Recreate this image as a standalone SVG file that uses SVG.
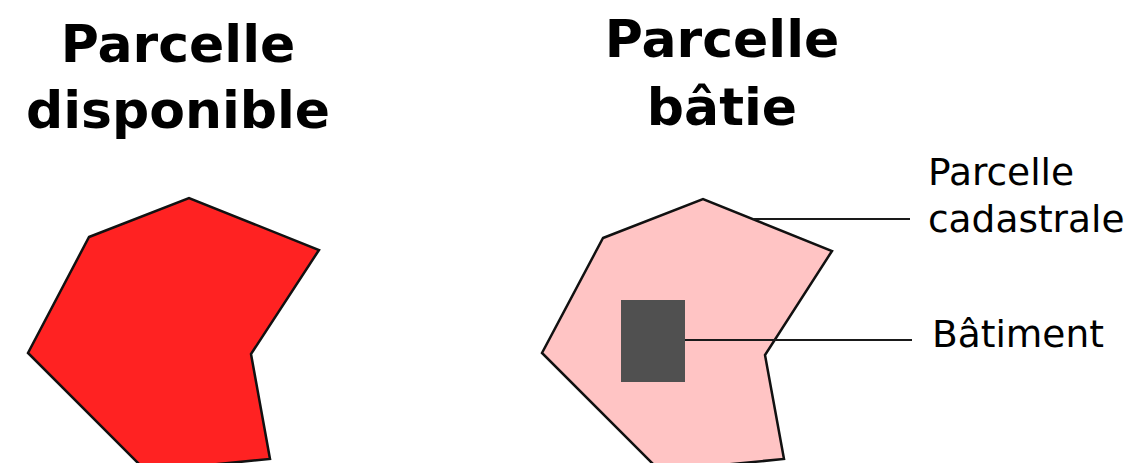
<svg xmlns="http://www.w3.org/2000/svg" width="1129" height="463" viewBox="0 0 1129 463">
<style>
.title{font-family:"DejaVu Sans",sans-serif;font-weight:bold;font-size:52px;fill:#000;text-anchor:middle}
.label{font-family:"DejaVu Sans",sans-serif;font-size:37.5px;fill:#000}
.parcel{stroke:#111;stroke-width:2.5;stroke-linejoin:miter}
.leader{stroke:#1a1a1a;stroke-width:2;fill:none}
</style>
<rect width="1129" height="463" fill="#fff"/>
<g id="title-left">
<text class="title" x="178" y="62">Parcelle</text>
<text class="title" x="178" y="128">disponible</text>
</g>
<g id="title-right">
<text class="title" x="722" y="57">Parcelle</text>
<text class="title" x="722" y="125">bâtie</text>
</g>
<g id="parcelle-disponible">
<polygon class="parcel" fill="#ff2222" points="89,237 189,198 319,250 251,354 270,459 146,471 28,353"/>
</g>
<g id="parcelle-batie">
<polygon class="parcel" fill="#ffc4c4" points="603,238 703,199 832,251 765,355 784,459 660,471 542,353"/>
</g>
<g id="batiment">
<rect x="621" y="300" width="64" height="82" fill="#505050"/>
</g>
<g id="connectors">
<line class="leader" x1="753" y1="219" x2="910" y2="219"/>
<line class="leader" x1="685" y1="340" x2="912" y2="340"/>
</g>
<g id="label-parcelle-cadastrale">
<text class="label" x="928" y="185">Parcelle</text>
<text class="label" x="928" y="232">cadastrale</text>
</g>
<g id="label-batiment">
<text class="label" x="932" y="347">Bâtiment</text>
</g>
</svg>
